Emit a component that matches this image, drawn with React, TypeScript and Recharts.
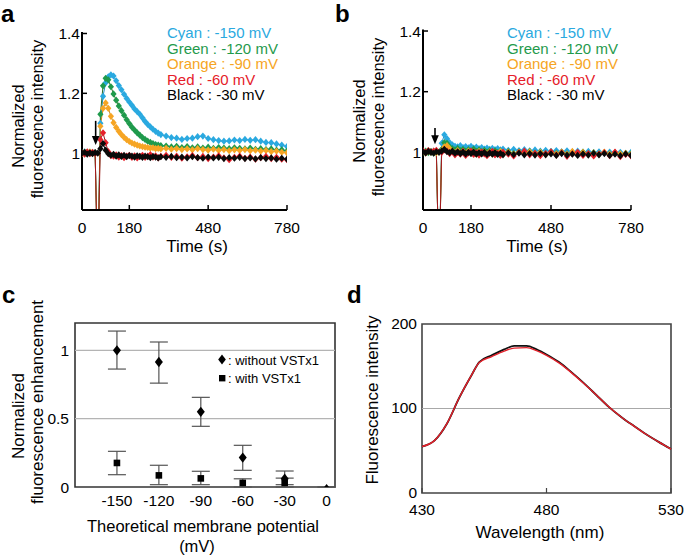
import React from 'react';
import {
  LineChart, Line, XAxis, YAxis, ScatterChart, Scatter, ErrorBar,
  ReferenceLine, ReferenceDot, ReferenceArea,
} from 'recharts';

const FONT = '"Liberation Sans", Arial, Helvetica, sans-serif';

// ---------- Panels a & b : time courses ----------
const timeSec = [
  0, 10, 20, 30, 40, 50, 60, 70, 80, 90, 100, 110, 120, 130, 140, 150, 160, 170, 180, 190, 200,
  210, 220, 230, 240, 250, 260, 270, 280, 290, 300,
  320, 340, 360, 380, 400, 420, 440, 460, 480, 500, 520, 540, 560, 580, 600, 620, 640, 660, 680,
  700, 720, 740, 760, 780,
];
const timeTicks = [0, 180, 480, 780];
const intensityTicks = [1, 1.2, 1.4];

// panel a (without VSTx1)
const cyanA = [
  1.000, 1.004, 0.998, 1.003, 1.000, 1.002, 0.6,
  1.100, 1.190, 1.235, 1.255, 1.262, 1.258, 1.242, 1.226, 1.212, 1.197, 1.183, 1.171, 1.160, 1.148, 1.139, 1.130, 1.118, 1.106, 1.096, 1.088, 1.080, 1.073, 1.067, 1.062,
  1.057, 1.052, 1.050, 1.046, 1.049, 1.050, 1.055, 1.057, 1.049, 1.045, 1.042, 1.040, 1.041, 1.044, 1.042, 1.046, 1.043, 1.045, 1.040, 1.036, 1.035, 1.031, 1.027, 1.022,
];
const greenA = [
  1.002, 0.998, 1.003, 0.999, 1.002, 1.000, 0.6,
  1.130, 1.225, 1.250, 1.245, 1.222, 1.198, 1.177, 1.158, 1.142, 1.127, 1.112, 1.099, 1.087, 1.077, 1.068, 1.060, 1.052, 1.046, 1.040, 1.036, 1.032, 1.029, 1.027, 1.025,
  1.024, 1.021, 1.023, 1.019, 1.022, 1.018, 1.021, 1.017, 1.020, 1.016, 1.019, 1.017, 1.015, 1.018, 1.016, 1.014, 1.017, 1.013, 1.015, 1.012, 1.014, 1.010, 1.011, 1.007,
];
const orangeA = [
  0.998, 1.003, 1.000, 1.004, 0.999, 1.001, 0.6,
  1.090, 1.150, 1.168, 1.150, 1.123, 1.102, 1.086, 1.073, 1.062, 1.053, 1.045, 1.039, 1.034, 1.030, 1.027, 1.024, 1.022, 1.020, 1.019, 1.017, 1.018, 1.015, 1.016, 1.014,
  1.016, 1.013, 1.015, 1.012, 1.014, 1.011, 1.015, 1.012, 1.010, 1.013, 1.009, 1.012, 1.008, 1.011, 1.009, 1.012, 1.008, 1.010, 1.007, 1.009, 1.005, 1.007, 1.003, 1.001,
];
const redA = [
  1.001, 0.997, 1.004, 0.998, 1.003, 0.999, 0.6,
  1.045, 1.068, 1.035, 1.005, 0.992, 0.990, 0.994, 0.987, 0.992, 0.985, 0.990, 0.993, 0.986, 0.991, 0.984, 0.989, 0.993, 0.986, 0.990, 0.995, 0.987, 0.991, 0.984, 0.989,
  0.993, 0.986, 0.990, 0.983, 0.988, 0.992, 0.985, 0.989, 0.982, 0.987, 0.991, 0.984, 0.978, 0.986, 0.990, 0.983, 0.987, 0.980, 0.985, 0.989, 0.982, 0.986, 0.980, 0.978,
];
const blackA = [
  1.000, 1.003, 0.997, 1.001, 0.998, 1.002, 1.000,
  1.015, 1.032, 1.010, 0.998, 0.993, 0.996, 0.990, 0.994, 0.989, 0.993, 0.988, 0.992, 0.990, 0.987, 0.991, 0.989, 0.986, 0.990, 0.988, 0.985, 0.989, 0.987, 0.984, 0.988,
  0.986, 0.989, 0.985, 0.987, 0.984, 0.988, 0.985, 0.983, 0.987, 0.984, 0.986, 0.982, 0.985, 0.983, 0.986, 0.982, 0.984, 0.981, 0.985, 0.982, 0.984, 0.980, 0.983, 0.980,
];

// panel b (with VSTx1)
const cyanB = [
  1.003, 0.999, 1.005, 1.000, 1.004, 1.002, 0.6,
  1.030, 1.058, 1.045, 1.032, 1.025, 1.020, 1.018, 1.022, 1.016, 1.019, 1.015, 1.020, 1.014, 1.017, 1.012, 1.016, 1.011, 1.014, 1.010, 1.013, 1.009, 1.012, 1.008, 1.011,
  1.007, 1.010, 1.006, 1.009, 1.005, 1.008, 1.004, 1.007, 1.003, 1.006, 1.002, 1.005, 1.001, 1.004, 1.000, 1.003, 0.999, 1.002, 0.998, 1.001, 0.997, 1.000, 0.996, 1.000,
];
const greenB = [
  1.000, 1.004, 0.999, 1.003, 0.998, 1.001, 0.6,
  1.010, 1.032, 1.030, 1.018, 1.012, 1.008, 1.013, 1.006, 1.010, 1.004, 1.009, 1.005, 1.011, 1.003, 1.008, 1.002, 1.007, 1.001, 1.006, 1.000, 1.005, 0.999, 1.004, 0.998,
  1.003, 0.997, 1.002, 0.998, 1.003, 0.997, 1.001, 0.996, 1.002, 0.997, 1.001, 0.995, 1.000, 0.996, 1.001, 0.995, 0.999, 0.994, 0.999, 0.995, 0.998, 0.994, 0.997, 0.995,
];
const orangeB = [
  1.002, 0.998, 1.005, 1.000, 1.003, 0.999, 0.6,
  1.005, 1.018, 1.022, 1.012, 1.004, 0.998, 1.006, 0.996, 1.003, 0.995, 1.004, 0.997, 1.002, 0.994, 1.003, 0.996, 1.001, 0.995, 1.002, 0.994, 1.000, 0.996, 1.003, 0.995,
  1.001, 0.994, 1.000, 0.996, 1.002, 0.995, 1.000, 0.993, 0.999, 0.995, 1.001, 0.994, 1.003, 0.996, 1.000, 0.993, 0.998, 0.995, 1.001, 0.994, 0.999, 0.995, 0.997, 0.993,
];
const redB = [
  1.005, 0.999, 1.006, 1.002, 1.004, 1.007, 0.6,
  1.000, 1.008, 1.004, 0.996, 1.002, 0.992, 1.000, 0.994, 1.003, 0.990, 0.998, 1.004, 0.993, 0.999, 0.991, 1.002, 0.995, 0.989, 0.998, 1.003, 0.992, 0.997, 0.990, 1.001,
  0.994, 0.988, 0.999, 1.004, 0.992, 0.997, 0.989, 0.996, 1.002, 0.991, 0.998, 0.987, 0.995, 1.000, 0.990, 0.996, 0.988, 0.994, 0.999, 0.989, 1.001, 0.986, 0.993, 0.988,
];
const blackB = [
  1.002, 0.998, 1.003, 1.000, 0.997, 1.002, 1.000,
  1.004, 1.010, 1.002, 0.999, 1.004, 0.997, 1.002, 0.996, 1.001, 0.995, 1.000, 0.996, 1.001, 0.994, 0.999, 0.995, 1.000, 0.993, 0.998, 0.994, 0.999, 0.993, 0.997, 0.992,
  0.998, 0.993, 0.997, 0.992, 0.996, 0.991, 0.996, 0.992, 0.995, 0.990, 0.996, 0.991, 0.994, 0.990, 0.995, 0.991, 0.997, 0.992, 0.996, 0.990, 0.994, 0.989, 0.995, 0.990,
];

const legendLabels = ['Cyan : -150 mV', 'Green : -120 mV', 'Orange : -90 mV', 'Red : -60 mV', 'Black : -30 mV'];

// ---------- Panel c ----------
const potentials = [-150, -120, -90, -60, -30, 0];
const withoutMean = [1.0, 0.915, 0.55, 0.215, 0.06, 0];
const withoutLow = [0.863, 0.76, 0.444, 0.122, 0.017, 0];
const withoutHigh = [1.141, 1.061, 0.656, 0.305, 0.117, 0];
const withPotentials = [-150, -120, -90, -60, -30];
const withMean = [0.176, 0.085, 0.063, 0.03, 0.03];
const withLow = [0.09, 0.017, 0.017, 0.0, 0.0];
const withHigh = [0.261, 0.159, 0.115, 0.06, 0.065];
const potentialTicks = [-150, -120, -90, -60, -30, 0];
const enhancementTicks = [0, 0.5, 1];

// ---------- Panel d ----------
const wavelength = [430, 435, 440, 445, 450, 453, 458, 463, 467, 472, 476, 480, 485, 490, 495, 500, 505, 510, 515, 520, 525, 530];
const spectrumBlack = [55, 62, 82, 113, 140, 155, 163, 170, 174, 174, 170, 164, 155, 143, 130, 116, 102, 90, 79.5, 69.5, 60.5, 52];
const spectrumRed = [55, 62, 82, 113, 140, 154.5, 161.5, 168, 171.5, 172, 168.5, 163, 154, 142.5, 129.5, 116, 102, 90, 79.5, 69.5, 60.5, 52];
const wavelengthTicks = [430, 480, 530];
const fluorTicks = [0, 100, 200];

// ---------- helpers ----------
const SERIES = [
  { key: 'cyan', dot: '#2aa9e0', line: '#1f8fc2' },
  { key: 'green', dot: '#1f9a4c', line: '#2f6f2a' },
  { key: 'orange', dot: '#f6a524', line: '#c98a1a' },
  { key: 'red', dot: '#e5202a', line: '#a01820' },
  { key: 'black', dot: '#0a0a0a', line: '#000' },
];
const LEGEND_COLORS = ['#2aa9e0', '#1f9a4c', '#f6a524', '#e5202a', '#000'];

const makeDiamondDot = (color: string) => (props: any) => {
  const { cx, cy, index } = props;
  if (cx == null || cy == null || Number.isNaN(cx) || Number.isNaN(cy)) return <g key={`e${index}`} />;
  return (
    <polygon
      key={`d${index}`}
      points={`${cx},${cy - 3.6} ${cx + 3.1},${cy} ${cx},${cy + 3.6} ${cx - 3.1},${cy}`}
      fill={color}
    />
  );
};

const arrowHead = (props: any) => {
  const { cx, cy } = props;
  return <polygon points={`${cx - 3.8},${cy - 9} ${cx + 3.8},${cy - 9} ${cx},${cy}`} fill="#000" />;
};

const diamondShape = (props: any) => {
  const { cx, cy } = props;
  const s = cx > 320 ? 0.6 : 1;
  return (
    <polygon
      points={`${cx},${cy - 5.2 * s} ${cx + 4 * s},${cy} ${cx},${cy + 5.2 * s} ${cx - 4 * s},${cy}`}
      fill="#000"
    />
  );
};
const squareShape = (props: any) => {
  const { cx, cy } = props;
  return <rect x={cx - 3.3} y={cy - 3.3} width={6.6} height={6.6} fill="#000" />;
};

const tickStyle = { fill: '#000', fontSize: 15.5, fontFamily: FONT };

function buildRows(c: number[], g: number[], o: number[], r: number[], b: number[]) {
  return timeSec.map((t, i) => ({ t, cyan: c[i], green: g[i], orange: o[i], red: r[i], black: b[i] }));
}

const rowsA = buildRows(cyanA, greenA, orangeA, redA, blackA);
const rowsB = buildRows(cyanB, greenB, orangeB, redB, blackB);

const rowsC1 = potentials.map((x, i) => ({
  x, y: withoutMean[i], err: [withoutMean[i] - withoutLow[i], withoutHigh[i] - withoutMean[i]],
}));
const rowsC2 = withPotentials.map((x, i) => ({
  x, y: withMean[i], err: [withMean[i] - withLow[i], withHigh[i] - withMean[i]],
}));
const rowsD = wavelength.map((w, i) => ({ w, black: spectrumBlack[i], red: spectrumRed[i] }));

function TimeChart(props: {
  rows: any[]; width: number; margin: any; arrowT: number; arrowTop: number;
}) {
  const { rows, width, margin, arrowT, arrowTop } = props;
  return (
    <LineChart width={width} height={270} data={rows} margin={margin}>
      <XAxis
        dataKey="t" type="number" domain={[0, 780]} ticks={timeTicks} interval={0}
        height={30} allowDataOverflow
        axisLine={{ stroke: '#000', strokeWidth: 2 }}
        tickLine={{ stroke: '#000', strokeWidth: 1.5 }}
        tickSize={-5} tickMargin={17} tick={tickStyle}
      />
      <YAxis
        type="number" domain={[0.81, 1.405]} ticks={intensityTicks} interval={0}
        width={40} allowDataOverflow
        axisLine={{ stroke: '#000', strokeWidth: 2 }}
        tickLine={{ stroke: '#000', strokeWidth: 1.5 }}
        tickSize={-5} tickMargin={7} tick={tickStyle}
        tickFormatter={(v: number) => String(v)}
      />
      {SERIES.map((s) => (
        <Line
          key={s.key} dataKey={s.key} type="linear" stroke={s.line} strokeWidth={1}
          dot={makeDiamondDot(s.dot)} activeDot={false} isAnimationActive={false}
        />
      ))}
      <ReferenceLine
        segment={[{ x: arrowT, y: arrowTop }, { x: arrowT, y: 1.04 }]}
        stroke="#000" strokeWidth={1.6}
      />
      <ReferenceDot x={arrowT} y={1.027} shape={arrowHead} />
    </LineChart>
  );
}

export default function App() {
  const T = (p: any) => <text fontFamily={FONT} fill="#000" {...p} />;
  return (
    <div style={{ position: 'absolute', left: 0, top: 0, width: 685, height: 559, background: '#fff', fontFamily: FONT }}>
      <div style={{ position: 'absolute', left: 0, top: 0 }}>
        <TimeChart rows={rowsA} width={340} margin={{ top: 32, right: 53, bottom: 30, left: 42 }} arrowT={52} arrowTop={1.108} />
      </div>
      <div style={{ position: 'absolute', left: 340, top: 0 }}>
        <TimeChart rows={rowsB} width={345} margin={{ top: 29.5, right: 54, bottom: 30, left: 43 }} arrowT={45} arrowTop={1.08} />
      </div>
      <div style={{ position: 'absolute', left: 0, top: 270 }}>
        <ScatterChart width={340} height={289} margin={{ top: 53, right: 5, bottom: 42, left: 35 }}>
          <XAxis
            type="number" dataKey="x" domain={[-180, 6]} ticks={potentialTicks} interval={0}
            height={30} allowDataOverflow axisLine={false} tickLine={false}
            tickSize={0} tickMargin={7.5} tick={tickStyle}
          />
          <YAxis
            type="number" dataKey="y" domain={[0, 1.2]} ticks={enhancementTicks} interval={0}
            width={40} allowDataOverflow axisLine={false} tickLine={false}
            tickSize={0} tickMargin={6} tick={tickStyle}
            tickFormatter={(v: number) => String(v)}
          />
          <ReferenceLine y={0.5} stroke="#b4b4b4" strokeWidth={1.2} />
          <ReferenceLine y={1} stroke="#b4b4b4" strokeWidth={1.2} />
          <ReferenceArea x1={-180} x2={6} y1={0} y2={1.2} fill="none" fillOpacity={0} stroke="#333" strokeWidth={1.6} />
          <Scatter data={rowsC1} shape={diamondShape} isAnimationActive={false}>
            <ErrorBar dataKey="err" direction="y" width={9} stroke="#555" strokeWidth={1.2} />
          </Scatter>
          <Scatter data={rowsC2} shape={squareShape} isAnimationActive={false}>
            <ErrorBar dataKey="err" direction="y" width={9} stroke="#555" strokeWidth={1.2} />
          </Scatter>
        </ScatterChart>
      </div>
      <div style={{ position: 'absolute', left: 340, top: 270 }}>
        <LineChart width={345} height={289} data={rowsD} margin={{ top: 54, right: 14, bottom: 36, left: 42 }}>
          <XAxis
            dataKey="w" type="number" domain={[430, 530]} ticks={wavelengthTicks} interval={0}
            height={30} axisLine={false}
            tickLine={{ stroke: '#444', strokeWidth: 1.2 }}
            tickSize={-5} tickMargin={15.5} tick={tickStyle}
          />
          <YAxis
            type="number" domain={[0, 200]} ticks={fluorTicks} interval={0}
            width={40} axisLine={false} tickLine={false}
            tickSize={0} tickMargin={5} tick={{ ...tickStyle, dy: -1 }}
          />
          <ReferenceLine y={100} stroke="#a8a8a8" strokeWidth={1.2} />
          <ReferenceArea x1={430} x2={530} y1={0} y2={200} fill="none" fillOpacity={0} stroke="#444" strokeWidth={1.6} />
          <Line dataKey="black" type="monotone" stroke="#111" strokeWidth={1.8} dot={false} activeDot={false} isAnimationActive={false} />
          <Line dataKey="red" type="monotone" stroke="#e3202a" strokeWidth={1.4} dot={false} activeDot={false} isAnimationActive={false} />
        </LineChart>
      </div>

      <svg width={685} height={559} style={{ position: 'absolute', left: 0, top: 0, pointerEvents: 'none' }}>
        {/* panel a */}
        <T x={1} y={22} fontSize={24} fontWeight="bold">a</T>
        {legendLabels.map((l, i) => (
          <T key={`la${i}`} x={167} y={38 + i * 15.5} fontSize={15} fill={LEGEND_COLORS[i]}>{l}</T>
        ))}
        <T x={197} y={252} fontSize={17} textAnchor="middle">Time (s)</T>
        <T transform="translate(24,126) rotate(-90)" fontSize={16.5} textAnchor="middle">Normalized</T>
        <T transform="translate(43,119) rotate(-90)" fontSize={16.5} textAnchor="middle">fluorescence intensity</T>

        {/* panel b */}
        <T x={335} y={22} fontSize={24} fontWeight="bold">b</T>
        {legendLabels.map((l, i) => (
          <T key={`lb${i}`} x={507} y={38 + i * 15.5} fontSize={15} fill={LEGEND_COLORS[i]}>{l}</T>
        ))}
        <T x={537} y={252} fontSize={17} textAnchor="middle">Time (s)</T>
        <T transform="translate(365,121) rotate(-90)" fontSize={16.5} textAnchor="middle">Normalized</T>
        <T transform="translate(384,117) rotate(-90)" fontSize={16.5} textAnchor="middle">fluorescence intensity</T>

        {/* panel c */}
        <T x={2} y={303} fontSize={24} fontWeight="bold">c</T>
        <polygon points="222,354.5 225.8,359.5 222,364.5 218.2,359.5" fill="#000" />
        <T x={228} y={364.5} fontSize={13}>: without VSTx1</T>
        <rect x={219} y={375} width={6.4} height={6.4} fill="#000" />
        <T x={228} y={382.5} fontSize={13}>: with VSTx1</T>
        <T x={203} y={532} fontSize={16.5} textAnchor="middle">Theoretical membrane potential</T>
        <T x={197} y={551.5} fontSize={16.5} textAnchor="middle">(mV)</T>
        <T transform="translate(24,416) rotate(-90)" fontSize={17} textAnchor="middle">Normalized</T>
        <T transform="translate(43,402) rotate(-90)" fontSize={17} textAnchor="middle">fluorescence enhancement</T>

        {/* panel d */}
        <T x={347} y={303} fontSize={24} fontWeight="bold">d</T>
        <T x={540} y={538} fontSize={17} textAnchor="middle">Wavelength (nm)</T>
        <T transform="translate(378,400) rotate(-90)" fontSize={17} textAnchor="middle">Fluorescence intensity</T>
      </svg>
    </div>
  );
}
